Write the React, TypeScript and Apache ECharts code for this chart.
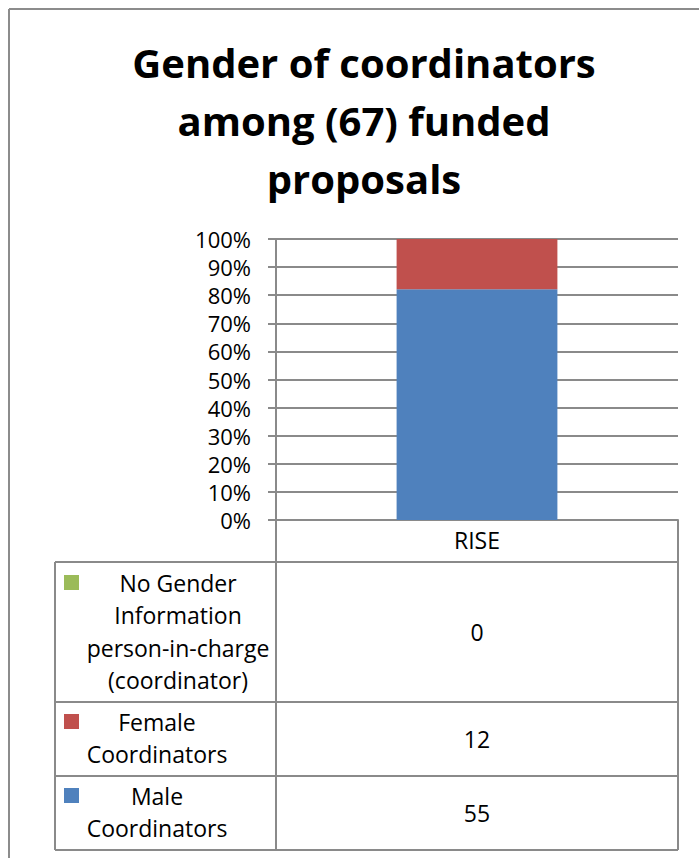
import React, { useEffect, useRef } from "react";
import * as echarts from "echarts";

const titleLines = ["Gender of coordinators", "among (67) funded", "proposals"];
const categories = ["RISE"];
const seriesNames = ["Male Coordinators", "Female Coordinators", "No Gender Information person-in-charge (coordinator)"];
const seriesLabelLines = [
  ["Male", "Coordinators"],
  ["Female", "Coordinators"],
  ["No Gender", "Information", "person-in-charge", "(coordinator)"],
];
const maleValues = [55];
const femaleValues = [12];
const noGenderValues = [0];
const seriesColors = ["#4F81BD", "#C0504D", "#9BBB59"];
const yTicks = [0, 10, 20, 30, 40, 50, 60, 70, 80, 90, 100];

const FONT = "'Open Sans'";
const GRAY = "#8a8a8a";

export default function App() {
  const ref = useRef<HTMLDivElement>(null);
  useEffect(() => {
    if (!ref.current) return;
    const chart = echarts.init(ref.current, null, { renderer: "svg" });
    const allValues = [maleValues, femaleValues, noGenderValues];
    const totals = categories.map((_, i) => allValues.reduce((s, a) => s + a[i], 0));
    const pct = (arr: number[]) => arr.map((v, i) => (totals[i] ? (v / totals[i]) * 100 : 0));

    // table layout
    const tLeft = 55, tDiv = 276, tRight = 678;
    const rowTops = [520, 562, 702, 776, 850];
    // table rows top-to-bottom: No Gender, Female, Male
    const rowOrder = [2, 1, 0];
    const rowLineY = [[583, 615, 648, 680], [722, 754], [796, 828]];
    const rowTextX = [178, 157, 157];

    const graphics: any[] = [];
    // outer border
    graphics.push({ type: "line", shape: { x1: 9, y1: 9, x2: 699, y2: 9 }, style: { stroke: "#8c8c8c", lineWidth: 2 } });
    graphics.push({ type: "line", shape: { x1: 9, y1: 9, x2: 9, y2: 858 }, style: { stroke: "#8c8c8c", lineWidth: 2 } });
    // title
    titleLines.forEach((t, i) => {
      graphics.push({
        type: "text",
        x: 364,
        y: 62 + i * 58,
        style: { text: t, font: `bold 40px ${FONT}`, fill: "#000", textAlign: "center", textVerticalAlign: "middle" },
      });
    });
    // table lines
    const line = (x1: number, y1: number, x2: number, y2: number) =>
      graphics.push({ type: "line", shape: { x1, y1, x2, y2 }, style: { stroke: GRAY, lineWidth: 2 } });
    line(tDiv, 520, tDiv, 850);
    line(tRight, 520, tRight, 850);
    line(tLeft, 562, tLeft, 850);
    for (let r = 1; r < rowTops.length; r++) line(tLeft, rowTops[r], tRight, rowTops[r]);

    rowOrder.forEach((si, r) => {
      const lines = seriesLabelLines[si];
      const ys = rowLineY[r];
      graphics.push({
        type: "rect",
        shape: { x: 64, y: ys[0] - 8, width: 15, height: 15 },
        style: { fill: seriesColors[si] },
      });
      lines.forEach((t, k) => {
        graphics.push({
          type: "text",
          x: rowTextX[r],
          y: ys[k],
          style: { text: t, font: `23px ${FONT}`, fill: "#000", textAlign: "center", textVerticalAlign: "middle" },
        });
      });
      graphics.push({
        type: "text",
        x: (tDiv + tRight) / 2,
        y: (rowTops[r + 1] + rowTops[r + 2]) / 2,
        style: { text: String(allValues[si][0]), font: `23px ${FONT}`, fill: "#000", textAlign: "center", textVerticalAlign: "middle" },
      });
    });

    chart.setOption({
      animation: false,
      backgroundColor: "#fff",
      grid: { left: 276, right: 21, top: 239, height: 281, containLabel: false },
      xAxis: {
        type: "category",
        data: categories,
        axisLine: { show: true, lineStyle: { color: GRAY, width: 2 } },
        axisTick: { show: false },
        axisLabel: { color: "#000", fontFamily: FONT, fontSize: 23, margin: 8 },
        splitLine: { show: false },
      },
      yAxis: {
        type: "value",
        min: 0,
        max: 100,
        interval: 10,
        axisLine: { show: true, lineStyle: { color: GRAY, width: 2 } },
        axisTick: { show: true, length: 8, lineStyle: { color: GRAY, width: 2 } },
        axisLabel: { color: "#000", fontFamily: FONT, fontSize: 22, margin: 25, formatter: (v: number) => (yTicks.includes(v) ? `${v}%` : "") },
        splitLine: { show: true, lineStyle: { color: GRAY, width: 2 } },
      },
      series: [
        { name: seriesNames[0], type: "bar", stack: "total", data: pct(maleValues), barWidth: "40%", itemStyle: { color: seriesColors[0] } },
        { name: seriesNames[1], type: "bar", stack: "total", data: pct(femaleValues), barWidth: "40%", itemStyle: { color: seriesColors[1] } },
        { name: seriesNames[2], type: "bar", stack: "total", data: pct(noGenderValues), barWidth: "40%", itemStyle: { color: seriesColors[2] } },
      ],
      graphic: graphics,
    });
    return () => chart.dispose();
  }, []);
  return <div ref={ref} style={{ position: "absolute", left: 0, top: 0, width: 699, height: 858 }} />;
}
